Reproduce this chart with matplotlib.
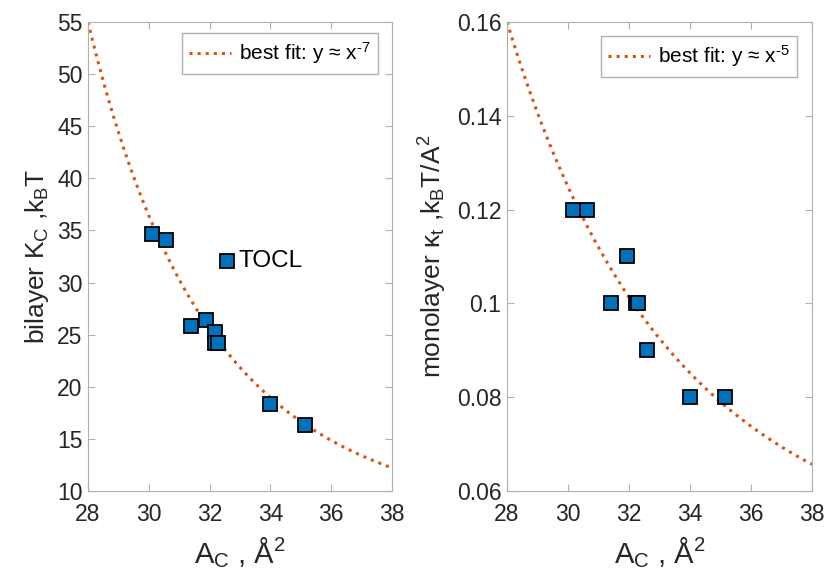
import numpy as np
import matplotlib
matplotlib.use('Agg')
import matplotlib.pyplot as plt

plt.rcParams['font.family'] = ['Liberation Sans', 'DejaVu Sans']
plt.rcParams['mathtext.default'] = 'regular'

# Data
area_bilayer = [30.11, 30.57, 31.39, 31.88, 32.18, 32.18, 32.28, 33.99, 35.14]
kc_bilayer = [34.65, 34.1, 25.8, 26.4, 25.3, 24.2, 24.2, 18.3, 16.3]
area_tocl = 32.57
kc_tocl = 32.1

area_mono = [30.16, 30.62, 31.41, 31.93, 32.23, 32.3, 32.59, 34.0, 35.15]
kt_mono = [0.12, 0.12, 0.10, 0.11, 0.10, 0.10, 0.09, 0.08, 0.08]

# fit curve parameters: y = a * (28/x)^n + b
fit_left = dict(a=48.5, n=7, b=6.5)
fit_right = dict(a=0.1205, n=5, b=0.0395)

blue = '#0072BD'
orange = '#D95319'
grey = '#262626'

fig = plt.figure(figsize=(8.27, 5.76), dpi=100)
ax1 = fig.add_axes([0.1064, 0.1476, 0.3676, 0.8142])
ax2 = fig.add_axes([0.6131, 0.1476, 0.3688, 0.8142])

xs = np.linspace(28, 38, 300)


def style(ax):
    ax.set_xlim(28, 38)
    ax.set_xticks(range(28, 39, 2))
    ax.tick_params(direction='in', top=True, right=True, labelsize=16.5,
                   colors='#b0b0b0', labelcolor=grey, length=5, pad=4)
    ax.tick_params(axis='x', pad=9)
    for s in ax.spines.values():
        s.set_color('#b0b0b0')
    ax.set_xlabel('A$_C$ , Å$^2$', fontsize=21, color=grey, labelpad=6)


# left panel
ax1.plot(xs, fit_left['a'] * (28 / xs) ** fit_left['n'] + fit_left['b'],
         ':', color=orange, lw=2.2, label='best fit: y ≈ x$^{\u20107}$')
ax1.plot(area_bilayer, kc_bilayer, 's', ms=10.5, mfc=blue, mec='black', mew=1.3,
         linestyle='none')
ax1.plot([area_tocl], [kc_tocl], 's', ms=10.5, mfc=blue, mec='black', mew=1.3)
ax1.text(area_tocl + 0.38, kc_tocl, 'TOCL', fontsize=17.5, color='black', va='center')
ax1.set_ylim(10, 55)
ax1.set_yticks(range(10, 56, 5))
style(ax1)
ax1.set_ylabel('bilayer K$_C$ ,k$_B$T', fontsize=19, color=grey, labelpad=4)
ax1.legend(handles=[ax1.lines[0]], loc='upper right', fontsize=15, fancybox=False,
           edgecolor='#b0b0b0', framealpha=1, handlelength=2.0, borderpad=0.35,
           handletextpad=0.4, borderaxespad=0, bbox_to_anchor=(0.954, 0.9765))

# right panel
ax2.plot(xs, fit_right['a'] * (28 / xs) ** fit_right['n'] + fit_right['b'],
         ':', color=orange, lw=2.2, label='best fit: y ≈ x$^{\u20105}$')
ax2.plot(area_mono, kt_mono, 's', ms=10.5, mfc=blue, mec='black', mew=1.3,
         linestyle='none')
ax2.set_ylim(0.06, 0.16)
ax2.set_yticks([0.06, 0.08, 0.1, 0.12, 0.14, 0.16])
ax2.set_yticklabels(['0.06', '0.08', '0.1', '0.12', '0.14', '0.16'])
style(ax2)
ax2.set_ylabel('monolayer κ$_t$ ,k$_B$T/A$^2$', fontsize=19, color=grey, labelpad=6)
ax2.legend(handles=[ax2.lines[0]], loc='upper right', fontsize=15, fancybox=False,
           edgecolor='#b0b0b0', framealpha=1, handlelength=2.0, borderpad=0.35,
           handletextpad=0.4, borderaxespad=0, bbox_to_anchor=(0.951, 0.970))

fig.savefig('out.png', dpi=100)
